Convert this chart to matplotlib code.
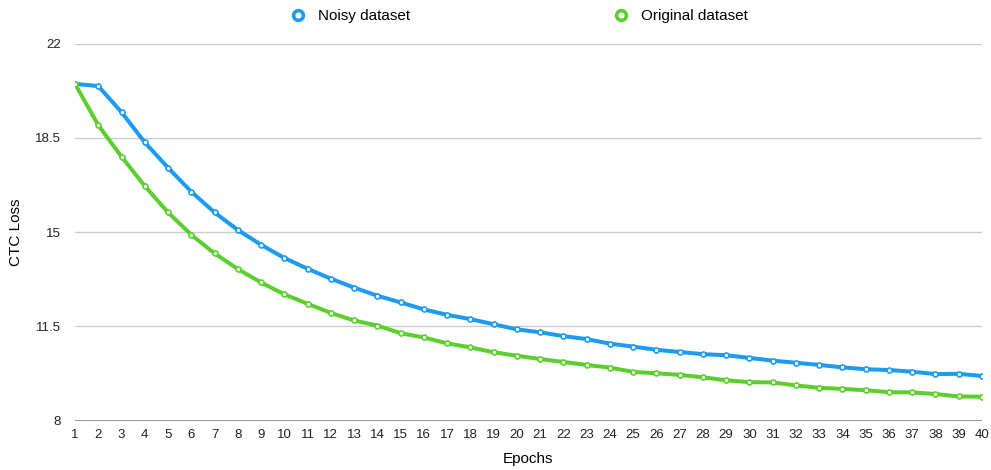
import numpy as np
import matplotlib
matplotlib.use("Agg")
import matplotlib.pyplot as plt
from matplotlib.lines import Line2D

# CTC loss per epoch
epochs = np.arange(1, 41)
noisy = [20.50, 20.42, 19.45, 18.33, 17.39, 16.50, 15.73, 15.08, 14.53, 14.04,
         13.64, 13.27, 12.94, 12.64, 12.39, 12.13, 11.93, 11.77, 11.58, 11.39,
         11.28, 11.14, 11.03, 10.86, 10.75, 10.63, 10.55, 10.47, 10.43, 10.33,
         10.23, 10.15, 10.07, 9.98, 9.91, 9.88, 9.82, 9.73, 9.74, 9.66]
original = [20.50, 18.97, 17.80, 16.71, 15.73, 14.90, 14.21, 13.63, 13.13, 12.69,
            12.34, 12.00, 11.72, 11.53, 11.25, 11.09, 10.87, 10.72, 10.54, 10.41,
            10.29, 10.18, 10.07, 9.97, 9.81, 9.76, 9.70, 9.61, 9.50, 9.43,
            9.42, 9.31, 9.22, 9.18, 9.13, 9.06, 9.05, 8.99, 8.90, 8.89]
y_ticks = [8, 11.5, 15, 18.5, 22]

blue = "#1d9bf0"
green = "#5ccf2f"

plt.rcParams["font.family"] = ["Liberation Sans", "DejaVu Sans"]

fig = plt.figure(figsize=(9.91, 4.70), dpi=100)
ax = fig.add_axes([75 / 991, 49.3 / 470, 907 / 991, 377.2 / 470])

for vals, col in [(noisy, blue), (original, green)]:
    ax.plot(epochs, vals, color=col, lw=2.9, marker="o", ms=3.6,
            mfc="white", mec=col, mew=1.2, solid_joinstyle="round", zorder=3)

ax.set_xlim(1, 40)
ax.set_ylim(8, 22)
ax.set_xticks(epochs)
ax.set_yticks(y_ticks)
ax.set_yticklabels(["8", "11.5", "15", "18.5", "22"])
ax.tick_params(axis="both", length=0, labelsize=9.5, colors="#222222")
ax.tick_params(axis="y", pad=10)
ax.tick_params(axis="x", pad=6)

for y in y_ticks[1:]:
    ax.axhline(y, color="#cccccc", lw=1, zorder=1)
ax.axhline(8, color="#888888", lw=1.2, zorder=1)
for s in ax.spines.values():
    s.set_visible(False)

ax.set_xlabel("Epochs", fontsize=11, labelpad=8)
ax.set_ylabel("CTC Loss", fontsize=11, labelpad=9)

handles = [Line2D([], [], ls="none", marker="o", ms=7, mfc="white", mec=blue, mew=2.6),
           Line2D([], [], ls="none", marker="o", ms=7, mfc="white", mec=green, mew=2.6)]
fig.legend(handles, ["Noisy dataset", "Original dataset"], loc="center",
           bbox_to_anchor=(519 / 991, 1 - 16 / 470), ncol=2, frameon=False,
           fontsize=11, handletextpad=0.8, columnspacing=13.3, handlelength=1.0)

fig.savefig("out.png", dpi=100)
